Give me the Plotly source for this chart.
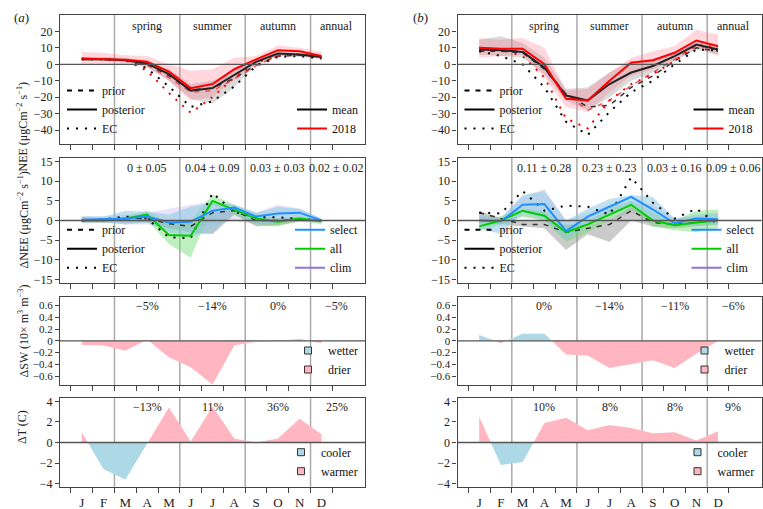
import plotly.graph_objects as go

# ---------------- data ----------------
months = ['J', 'F', 'M', 'A', 'M', 'J', 'J', 'A', 'S', 'O', 'N', 'D']
seasons = ['spring', 'summer', 'autumn', 'annual']

# panel (a) NEE
a_post_2018 = [3.5, 3.0, 2.7, 1.5, -4.5, -14.5, -12.0, -3.0, 3.0, 8.5, 8.0, 5.0]
a_post_2018_hi = [7.5, 7.0, 5.5, 5.0, 0.0, -4.0, -3.0, 4.0, 5.0, 11.5, 10.0, 7.5]
a_post_2018_lo = [0.5, 0.5, 0.0, -2.0, -10.0, -22.0, -20.0, -9.0, 0.0, 5.0, 5.5, 3.0]
a_post_mean = [3.0, 3.0, 2.5, 0.5, -6.0, -16.0, -14.5, -6.5, 1.5, 6.5, 6.0, 4.5]
a_post_mean_hi = [4.5, 4.5, 4.0, 2.0, -3.0, -12.0, -10.0, -3.0, 3.0, 7.5, 7.0, 5.5]
a_post_mean_lo = [2.0, 2.0, 1.5, -1.5, -10.0, -21.0, -24.0, -14.0, 0.0, 5.0, 4.5, 3.5]
a_prior_mean = [3.0, 3.0, 2.5, 0.0, -7.0, -15.5, -14.5, -8.5, -0.5, 5.0, 5.5, 4.0]
a_prior_2018 = [3.5, 3.0, 2.5, -0.5, -8.0, -17.0, -16.0, -9.0, -1.0, 5.5, 6.0, 4.5]
a_ec_mean = [3.0, 3.0, 2.5, -2.5, -13.5, -26.0, -22.5, -13.5, -1.0, 4.5, 5.0, 3.5]
a_ec_2018 = [3.5, 3.0, 2.5, -4.0, -17.5, -29.5, -20.0, -8.0, 1.0, 5.0, 6.0, 4.5]

# panel (b) NEE
b_post_2018 = [10.0, 9.5, 9.5, 0.0, -21.0, -22.0, -10.0, 1.0, 2.5, 7.0, 14.5, 11.0]
b_post_2018_hi = [16.0, 15.0, 16.0, 10.0, -16.0, -15.0, -5.0, 4.0, 8.0, 11.0, 21.0, 18.0]
b_post_2018_lo = [4.0, 5.0, 6.0, -8.0, -26.0, -29.0, -17.0, -7.0, -3.0, 3.0, 10.0, 5.0]
b_post_mean = [9.0, 8.5, 7.5, -2.0, -19.0, -22.0, -12.0, -5.0, -1.0, 5.0, 12.0, 9.0]
b_post_mean_hi = [15.0, 17.0, 13.0, 4.0, -15.0, -14.0, -5.0, 2.0, 3.0, 8.0, 14.0, 12.0]
b_post_mean_lo = [6.0, 5.0, 4.0, -6.0, -22.0, -28.0, -20.0, -10.0, -5.0, 2.0, 9.0, 6.0]
b_prior_mean = [8.0, 8.0, 7.0, -3.0, -18.0, -26.0, -25.0, -14.0, -7.0, 2.0, 10.0, 8.0]
b_prior_2018 = [9.0, 9.0, 8.0, -2.0, -18.0, -28.0, -22.0, -13.0, -5.0, 3.0, 11.0, 9.0]
b_ec_mean = [8.0, 5.0, 0.0, -14.0, -35.0, -43.0, -29.0, -17.0, -10.0, 0.0, 9.0, 8.5]
b_ec_2018 = [10.0, 9.0, 5.0, -8.0, -33.0, -39.0, -22.0, -12.0, -6.0, 2.0, 12.0, 10.0]

# panel (a) dNEE
a_sel = [0.2, 0.3, 0.5, 1.0, -0.5, -0.3, 2.5, 3.3, 1.0, 1.8, 2.0, 0.0]
a_sel_hi = [1.0, 1.0, 2.5, 2.2, 1.5, 3.5, 4.5, 4.0, 2.0, 3.5, 3.0, 0.5]
a_sel_lo = [-0.5, -0.5, -1.0, -0.5, -3.0, -4.0, -3.0, 2.0, -1.0, -0.5, 0.5, -0.5]
a_all = [0.0, 0.0, 0.5, 1.5, -3.7, -3.9, 5.0, 2.8, 0.5, -0.3, 0.5, -0.2]
a_all_hi = [0.5, 0.3, 1.0, 2.5, -0.5, 0.0, 6.5, 4.0, 1.5, 0.5, 1.0, 0.0]
a_all_lo = [-0.5, -0.5, 0.0, 0.0, -6.0, -9.5, 4.0, 1.5, -1.0, -1.5, 0.0, -1.0]
a_clim_hi = [1.2, 1.0, 1.5, 2.0, 3.0, 4.0, 5.0, 4.0, 2.0, 4.0, 3.0, 0.5]
a_clim_lo = [-0.5, -0.5, -1.0, -1.0, -2.0, -2.0, -1.0, 0.0, -1.0, -1.0, 0.0, -0.5]
a_dprior = [0.0, 0.2, 0.5, 0.5, -0.8, -1.5, 2.0, 2.5, 0.0, 0.0, 0.3, 0.0]
a_dprior_hi = [0.8, 0.5, 0.8, 1.0, 0.0, 0.0, 2.0, 3.0, 0.5, 0.5, 0.8, 0.3]
a_dprior_lo = [-0.5, -0.5, -0.5, -0.5, -2.0, -3.0, -3.5, 1.5, -1.5, -1.2, -0.3, -0.5]
a_dec = [0.0, 0.3, 1.0, 0.5, -4.3, -4.5, 7.0, 2.2, 0.8, 0.8, 0.4, 0.0]
a_dnee_text = ['0 ± 0.05', '0.04 ± 0.09', '0.03 ± 0.03', '0.02 ± 0.02']

# panel (b) dNEE
b_sel = [0.0, -0.2, 4.0, 4.2, -2.7, 1.0, 3.5, 6.0, 2.8, -0.7, 0.5, 0.3]
b_sel_hi = [1.5, 0.5, 6.5, 7.5, 0.0, 3.0, 5.5, 6.5, 6.0, 0.5, 1.5, 2.0]
b_sel_lo = [-2.0, -3.5, 2.0, 0.5, -5.0, -1.0, 2.0, 4.0, 0.0, -1.5, -1.0, -1.0]
b_all = [-1.5, 0.0, 2.5, 1.2, -3.0, -1.0, 1.5, 4.0, 0.0, -1.2, -0.5, 0.0]
b_all_hi = [0.0, 1.0, 3.0, 2.5, -1.5, 0.0, 3.0, 5.0, 2.0, 0.0, 2.5, 2.8]
b_all_lo = [-2.7, -1.0, 1.0, 0.0, -5.5, -3.0, 0.0, 3.0, -1.5, -2.5, -3.0, -2.0]
b_clim_hi = [1.0, 1.0, 6.0, 8.0, 0.0, 2.0, 4.0, 5.0, 4.0, 0.5, 1.0, 1.5]
b_clim_lo = [-1.0, -1.0, 1.0, 0.0, -3.0, -1.0, 0.0, 2.0, 0.0, -1.5, -1.0, -0.5]
b_dprior = [2.0, 0.5, -1.0, -1.0, -3.0, -2.0, -1.0, 2.5, -0.5, -1.0, -0.5, 0.0]
b_dprior_hi = [2.5, 0.5, 0.0, 0.0, -1.0, -1.0, 0.0, 3.5, 0.0, -0.5, 0.0, 0.5]
b_dprior_lo = [-0.5, -1.0, -1.5, -2.0, -7.5, -3.5, -5.5, 0.0, -1.5, -2.0, -1.5, -1.0]
b_dec = [2.0, 1.8, 7.5, 2.5, 3.8, 3.5, 1.5, 11.0, 4.5, 0.5, 3.0, -1.0]
b_dnee_text = ['0.11 ± 0.28', '0.23 ± 0.23', '0.03 ± 0.16', '0.09 ± 0.06']

# soil water and temperature anomalies
a_dsw = [-0.07, -0.08, -0.17, 0.02, -0.28, -0.45, -0.74, -0.08, -0.01, 0.0, 0.03, -0.04]
b_dsw = [0.10, -0.04, 0.12, 0.12, -0.23, -0.25, -0.46, -0.40, -0.33, -0.46, -0.22, 0.0]
a_dt = [1.0, -2.6, -3.6, -0.1, 3.4, 0.1, 3.5, 0.4, 0.0, 0.4, 2.3, 0.8]
b_dt = [2.5, -2.2, -1.9, 1.9, 2.4, 1.2, 1.7, 1.4, 0.9, 1.0, 0.2, 1.1]
a_dsw_text = ['−5%', '−14%', '0%', '−5%']
b_dsw_text = ['0%', '−14%', '−11%', '−6%']
a_dt_text = ['−13%', '11%', '36%', '25%']
b_dt_text = ['10%', '8%', '8%', '9%']

# ---------------- styling ----------------
SERIF = 'Liberation Serif'
FRAME = '#444444'
RED = '#ff0000'
BLUE = '#1e90ff'
GREEN = '#00cc00'
PURPLE = '#9370db'
LBLUE = '#add8e6'
LPINK = '#ffb6c1'
W, H = 763, 509

month_x = list(range(1, len(months) + 1))
month_edges = [m - 0.5 for m in month_x] + [month_x[-1] + 0.5]
season_edges = [2.5, 5.5, 8.5, 11.5]
season_centres = [4.0, 7.0, 10.0, 12.7]


def fx(p):
    return p / W


def fy(p):
    return 1 - p / H


col_dom = [[fx(60), fx(365)], [fx(457.5), fx(761.5)]]
row_px = [(15, 144), (157.7, 283.3), (296.7, 385), (398.3, 486.7)]
row_title_px = [80, 220, 331, 446]
row_dom = [[fy(b), fy(t)] for t, b in row_px]
row_range = [[-48.5, 30], [-16, 16], [-0.75, 0.75], [-4.3, 4.3]]
row_ticks = [[-40, -30, -20, -10, 0, 10, 20],
             [-15, -10, -5, 0, 5, 10, 15],
             [-0.6, -0.4, -0.2, 0, 0.2, 0.4, 0.6],
             [-4, -2, 0, 2, 4]]
row_tick_size = [12, 12, 11, 12]
row_label_y = [0.915, 0.92, 0.895, 0.90]

fig = go.Figure()


def ax(col, row):
    i = col * 4 + row + 1
    return ('x' if i == 1 else f'x{i}'), ('y' if i == 1 else f'y{i}')


def band(col, row, lo, hi, color):
    xa, ya = ax(col, row)
    fig.add_trace(go.Scatter(x=month_x + month_x[::-1], y=hi + lo[::-1], fill='toself',
                             fillcolor=color, line=dict(width=0), mode='lines',
                             hoverinfo='skip', showlegend=False, xaxis=xa, yaxis=ya))


def line(col, row, y, color, width=2, dash='solid'):
    xa, ya = ax(col, row)
    fig.add_trace(go.Scatter(x=month_x, y=y, mode='lines', line=dict(color=color, width=width, dash=dash),
                             showlegend=False, xaxis=xa, yaxis=ya))


def split_sign(xs, ys):
    px_, py_ = [xs[0]], [ys[0]]
    for k in range(1, len(xs)):
        x0, y0, x1, y1 = xs[k - 1], ys[k - 1], xs[k], ys[k]
        if y0 * y1 < 0:
            px_.append(x0 + (x1 - x0) * (-y0) / (y1 - y0))
            py_.append(0.0)
        px_.append(x1)
        py_.append(y1)
    return px_, [max(v, 0) for v in py_], [min(v, 0) for v in py_]


def area(col, row, y, pos_color, neg_color):
    xa, ya = ax(col, row)
    xs, pos, neg = split_sign(month_x, y)
    for yy, c in ((pos, pos_color), (neg, neg_color)):
        fig.add_trace(go.Scatter(x=xs, y=yy, fill='tozeroy', fillcolor=c, mode='lines',
                                 line=dict(width=0, color=c), showlegend=False, xaxis=xa, yaxis=ya))


DOT = '2px,7px'
DASH = '5px,6px'

# NEE panels
for col, d in enumerate([
        (a_post_mean_lo, a_post_mean_hi, a_post_2018_lo, a_post_2018_hi, a_prior_mean, a_prior_2018,
         a_ec_mean, a_ec_2018, a_post_mean, a_post_2018),
        (b_post_mean_lo, b_post_mean_hi, b_post_2018_lo, b_post_2018_hi, b_prior_mean, b_prior_2018,
         b_ec_mean, b_ec_2018, b_post_mean, b_post_2018)]):
    mlo, mhi, rlo, rhi, pm, p18, em, e18, qm, q18 = d
    band(col, 0, mlo, mhi, 'rgba(150,150,150,0.35)')
    band(col, 0, rlo, rhi, 'rgba(255,110,130,0.28)')
    line(col, 0, pm, '#333333', 1.5, DASH)
    line(col, 0, p18, 'rgba(235,60,80,0.85)', 1.5, DASH)
    line(col, 0, em, '#000000', 2, DOT)
    line(col, 0, e18, RED, 2, DOT)
    line(col, 0, qm, '#222222', 2)
    line(col, 0, q18, RED, 2)

# dNEE panels
for col, d in enumerate([
        (a_clim_lo, a_clim_hi, a_dprior_lo, a_dprior_hi, a_all_lo, a_all_hi, a_sel_lo, a_sel_hi,
         a_dprior, a_dec, a_all, a_sel),
        (b_clim_lo, b_clim_hi, b_dprior_lo, b_dprior_hi, b_all_lo, b_all_hi, b_sel_lo, b_sel_hi,
         b_dprior, b_dec, b_all, b_sel)]):
    clo, chi, plo, phi, alo, ahi, slo, shi, pr, ec, al, se = d
    band(col, 1, clo, chi, 'rgba(190,180,235,0.35)')
    band(col, 1, plo, phi, 'rgba(140,140,140,0.45)')
    band(col, 1, alo, ahi, 'rgba(110,220,110,0.45)')
    band(col, 1, slo, shi, 'rgba(140,200,225,0.55)')
    line(col, 1, pr, '#333333', 1.5, DASH)
    line(col, 1, ec, '#000000', 2, DOT)
    line(col, 1, al, GREEN, 2)
    line(col, 1, se, BLUE, 2)

# soil water (wetter = blue, drier = pink) & temperature (warmer = pink, cooler = blue)
area(0, 2, a_dsw, LBLUE, LPINK)
area(1, 2, b_dsw, LBLUE, LPINK)
area(0, 3, a_dt, LPINK, LBLUE)
area(1, 3, b_dt, LPINK, LBLUE)


# ---------------- legends ----------------
def entry(name, legend, **kw):
    fig.add_trace(go.Scatter(x=[None], y=[None], name=name, legend=legend, showlegend=True, **kw))


def square(c):
    return dict(symbol='square', size=7, color=c, line=dict(color='#333', width=1))


legends = {}
for col in range(2):
    base = col * 6
    names = ['legend' if base == 0 else f'legend{base + 1}'] + [f'legend{base + k}' for k in range(2, 7)]
    left = 60 if col == 0 else 457.5
    right = 365 if col == 0 else 761.5
    for n, st in (('prior', DASH), ('posterior', 'solid'), ('EC', DOT)):
        entry(n, names[0], mode='lines', line=dict(color='#000000', width=2, dash=st))
    entry('mean', names[1], mode='lines', line=dict(color='#000000', width=2))
    entry('2018', names[1], mode='lines', line=dict(color=RED, width=2))
    for n, st in (('prior', DASH), ('posterior', 'solid'), ('EC', DOT)):
        entry(n, names[2], mode='lines', line=dict(color='#000000', width=2, dash=st))
    entry('select', names[3], mode='lines', line=dict(color=BLUE, width=2))
    entry('all', names[3], mode='lines', line=dict(color=GREEN, width=2))
    entry('clim', names[3], mode='lines', line=dict(color=PURPLE, width=2))
    entry('wetter', names[4], mode='markers', marker=square(LBLUE))
    entry('drier', names[4], mode='markers', marker=square(LPINK))
    entry('cooler', names[5], mode='markers', marker=square(LBLUE))
    entry('warmer', names[5], mode='markers', marker=square(LPINK))
    common = dict(bgcolor='rgba(0,0,0,0)', font=dict(family=SERIF, size=12, color='#111'),
                  tracegroupgap=0, itemwidth=30, borderwidth=0, yanchor='bottom')
    legends[names[0]] = dict(common, x=fx(left + 2), xanchor='left', y=fy(row_px[0][1] - 1))
    legends[names[1]] = dict(common, x=fx(right - 2), xanchor='right', y=fy(row_px[0][1] - 1))
    legends[names[2]] = dict(common, x=fx(left + 2), xanchor='left', y=fy(row_px[1][1] - 1))
    legends[names[3]] = dict(common, x=fx(right - 2), xanchor='right', y=fy(row_px[1][1] - 1))
    legends[names[4]] = dict(common, x=fx(right - 2), xanchor='right', y=fy(row_px[2][1] - 1))
    legends[names[5]] = dict(common, x=fx(right - 2), xanchor='right', y=fy(row_px[3][1] - 1))

# ---------------- layout ----------------
layout = dict(template='none', width=W, height=H, margin=dict(l=0, r=0, t=0, b=0, pad=0, autoexpand=False),
              paper_bgcolor='white', plot_bgcolor='white',
              font=dict(family=SERIF, size=12, color='#222'))
layout.update(legends)

shapes = []
annotations = []
row_texts = [[seasons, a_dnee_text, a_dsw_text, a_dt_text],
             [seasons, b_dnee_text, b_dsw_text, b_dt_text]]
for col in range(2):
    for row in range(4):
        i = col * 4 + row + 1
        xk = 'xaxis' if i == 1 else f'xaxis{i}'
        yk = 'yaxis' if i == 1 else f'yaxis{i}'
        xa, ya = ax(col, row)
        layout[xk] = dict(domain=col_dom[col], range=[0, 14], anchor=ya, showgrid=False, zeroline=False,
                          automargin=False, layer='above traces',
                          showline=True, mirror=True, linecolor=FRAME, linewidth=1.2,
                          tickmode='array', tickvals=month_x,
                          ticktext=months if row == 3 else [''] * len(months),
                          ticks='', ticklabelstandoff=4,
                          tickfont=dict(family=SERIF, size=13, color='#222'),
                          minor=dict(tickmode='array', tickvals=month_edges, ticks='outside',
                                     ticklen=5, tickcolor=FRAME, tickwidth=1, showgrid=False),
                          fixedrange=True)
        layout[yk] = dict(domain=row_dom[row], range=row_range[row], anchor=xa, showgrid=False,
                          automargin=False, layer='above traces',
                          showline=True, mirror=True, linecolor=FRAME, linewidth=1.2,
                          tickmode='array', tickvals=row_ticks[row], ticks='outside', ticklen=4,
                          tickcolor=FRAME, zeroline=False,
                          tickfont=dict(family=SERIF, size=row_tick_size[row], color='#222'),
                          fixedrange=True)
        for e in season_edges:
            shapes.append(dict(type='line', xref=xa, yref=f'{ya} domain', x0=e, x1=e, y0=0, y1=1,
                               line=dict(color='#aaaaaa', width=1.5), layer='below'))
        # zero reference line across the panel
        shapes.append(dict(type='line', xref=f'{xa} domain', yref=ya, x0=0, x1=1, y0=0, y1=0,
                           line=dict(color='#555555', width=1.3), layer='above'))
        for t, c in zip(row_texts[col][row], season_centres):
            annotations.append(dict(text=t, x=c, xref=xa, y=row_label_y[row], yref=f'{ya} domain',
                                    showarrow=False, font=dict(family=SERIF, size=12, color='#222'),
                                    xanchor='center', yanchor='middle'))

ytitles = ['NEE (μgCm<sup>−2</sup> s<sup>−1</sup>)', 'ΔNEE (μgCm<sup>−2</sup> s<sup>−1</sup>)',
           'ΔSW (10× m<sup>3</sup> m<sup>−3</sup>)', 'ΔT (C)']
for row, t in enumerate(ytitles):
    annotations.append(dict(text=t, x=fx(13), y=fy(row_title_px[row]),
                            xref='paper', yref='paper', textangle=-90, showarrow=False,
                            font=dict(family=SERIF, size=12, color='#222')))
annotations.append(dict(text='(<i>a</i>)', x=fx(12), y=fy(8), xref='paper', yref='paper',
                        showarrow=False, font=dict(family=SERIF, size=13, color='#222')))
annotations.append(dict(text='(<i>b</i>)', x=fx(420), y=fy(8), xref='paper', yref='paper',
                        showarrow=False, font=dict(family=SERIF, size=13, color='#222')))

layout['shapes'] = shapes
layout['annotations'] = annotations
fig.update_layout(**layout)
fig.write_html('out.html', config={'displayModeBar': False},
               post_script="document.body.style.margin='0px';document.body.style.overflow='hidden';")
